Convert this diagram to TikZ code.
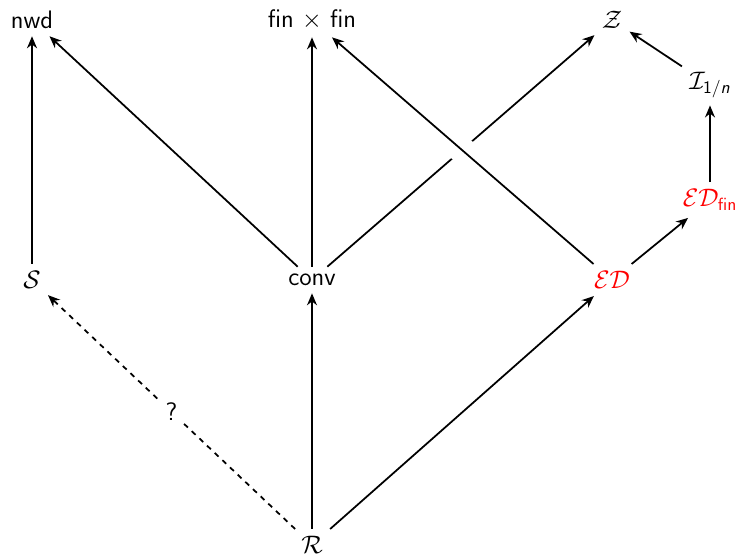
\documentclass[tikz,border=0pt]{standalone}
\usepackage{amsmath,amssymb}
\usepackage{xcolor}
\usepackage{tikz}
\usetikzlibrary{arrows.meta}

\newcommand{\sfit}[1]{\textsf{\slshape #1}}

\begin{document}
\begin{tikzpicture}[x=0.02cm, y=-0.02cm,
  font=\sffamily\Large,
  obj/.style={inner sep=4pt},
  hl/.style={obj, text=red},
  arr/.style={-{Stealth[length=2.4mm, width=2mm]}, line width=1pt},
  darr/.style={arr, dashed},
  gap/.style={draw=white, line width=15pt, shorten <=1.5cm, shorten >=1.5cm},
]
\useasboundingbox (0,0) rectangle (740,554);

% top row
\node[obj] (nwd) at (32,20) {nwd};
\node[obj] (fin) at (312,20) {fin $\times$ fin};
\node[obj] (Z) at (612,20) {$\mathcal{Z}$};
\node[obj] (I) at (710,85) {$\mathcal{I}_{\textsf{1}/\sfit{n}}$};
% middle row
\node[hl] (EDf) at (710,200) {$\mathcal{E}\mathcal{D}_{\textsf{fin}}$};
\node[obj] (S) at (32,280) {$\mathcal{S}$};
\node[obj] (conv) at (312,280) {conv};
\node[hl] (ED) at (612,280) {$\mathcal{E}\mathcal{D}$};
% bottom
\node[obj] (R) at (312,545) {$\mathcal{R}$};

\draw[arr] (S) -- (nwd);
\draw[arr] (conv) -- (nwd);
\draw[arr] (conv) -- (fin);
\draw[arr] (conv) -- (Z);
\draw[gap] (ED) -- (fin);
\draw[arr] (ED) -- (fin);
\draw[arr] (ED) -- (EDf);
\draw[arr] (EDf) -- (I);
\draw[arr] (I) -- (Z);
\draw[darr] (R) -- node[fill=white, inner sep=3pt]{?} (S);
\draw[arr] (R) -- (conv);
\draw[arr] (R) -- (ED);
\end{tikzpicture}
\end{document}
